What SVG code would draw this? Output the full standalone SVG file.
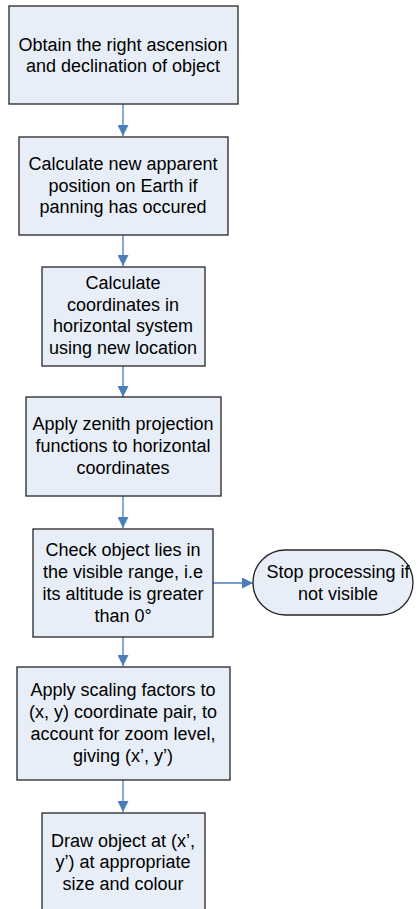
<svg xmlns="http://www.w3.org/2000/svg" width="417" height="909" viewBox="0 0 417 909">
<style>
.box{fill:#E8EEF7;stroke:#262626;stroke-width:1.3}
.t{font-family:"Liberation Sans",Arial,sans-serif;font-size:18px;fill:#000;text-anchor:middle;dominant-baseline:central}
.c{stroke:#4A7EBB;stroke-width:1.3;fill:none}
</style>
<defs>
<marker id="ah" markerWidth="12" markerHeight="11" refX="11" refY="5.5" orient="auto" markerUnits="userSpaceOnUse">
<path d="M0,0 L11,5.5 L0,11 Z" fill="#4A7EBB"/>
</marker>
</defs>
<rect x="0" y="0" width="417" height="909" fill="#fff"/>
<g id="connectors">
<line class="c" x1="123" y1="104" x2="123" y2="136" marker-end="url(#ah)"/>
<line class="c" x1="123" y1="235" x2="123" y2="266" marker-end="url(#ah)"/>
<line class="c" x1="123" y1="366" x2="123" y2="397" marker-end="url(#ah)"/>
<line class="c" x1="123" y1="496" x2="123" y2="528" marker-end="url(#ah)"/>
<line class="c" x1="213" y1="583" x2="253" y2="583" marker-end="url(#ah)"/>
<line class="c" x1="123" y1="637" x2="123" y2="666" marker-end="url(#ah)"/>
<line class="c" x1="123" y1="780" x2="123" y2="812" marker-end="url(#ah)"/>
</g>
<g id="n1">
<rect class="box" x="9" y="6" width="229" height="98"/>
<text class="t" x="123" y="45">Obtain the right ascension</text>
<text class="t" x="123" y="66">and declination of object</text>
</g>
<g id="n2">
<rect class="box" x="19" y="137" width="209" height="98"/>
<text class="t" x="123" y="164">Calculate new apparent</text>
<text class="t" x="123" y="185.5">position on Earth if</text>
<text class="t" x="123" y="207">panning has occured</text>
</g>
<g id="n3">
<rect class="box" x="42" y="267" width="163" height="99"/>
<text class="t" x="123" y="283">Calculate</text>
<text class="t" x="123" y="304.5">coordinates in</text>
<text class="t" x="123" y="326">horizontal system</text>
<text class="t" x="123" y="347.5">using new location</text>
</g>
<g id="n4">
<rect class="box" x="26" y="397" width="195" height="99"/>
<text class="t" x="123" y="424">Apply zenith projection</text>
<text class="t" x="123" y="446">functions to horizontal</text>
<text class="t" x="123" y="468">coordinates</text>
</g>
<g id="n5">
<rect class="box" x="33" y="529" width="180" height="108"/>
<text class="t" x="123" y="549.5">Check object lies in</text>
<text class="t" x="123" y="571.5">the visible range, i.e</text>
<text class="t" x="123" y="593.5">its altitude is greater</text>
<text class="t" x="123" y="615.5">than 0°</text>
</g>
<g id="n6">
<rect class="box" x="253" y="550" width="160" height="65" rx="32.5" ry="32.5"/>
<text class="t" x="338" y="572">Stop processing if</text>
<text class="t" x="338" y="594">not visible</text>
</g>
<g id="n7">
<rect class="box" x="17" y="667" width="213" height="113"/>
<text class="t" x="123" y="690">Apply scaling factors to</text>
<text class="t" x="123" y="712">(x, y) coordinate pair, to</text>
<text class="t" x="123" y="734">account for zoom level,</text>
<text class="t" x="123" y="756">giving (x’, y’)</text>
</g>
<g id="n8">
<rect class="box" x="42" y="813" width="163" height="110"/>
<text class="t" x="123" y="840.5">Draw object at (x’,</text>
<text class="t" x="123" y="862">y’) at appropriate</text>
<text class="t" x="123" y="883.5">size and colour</text>
</g>
</svg>
